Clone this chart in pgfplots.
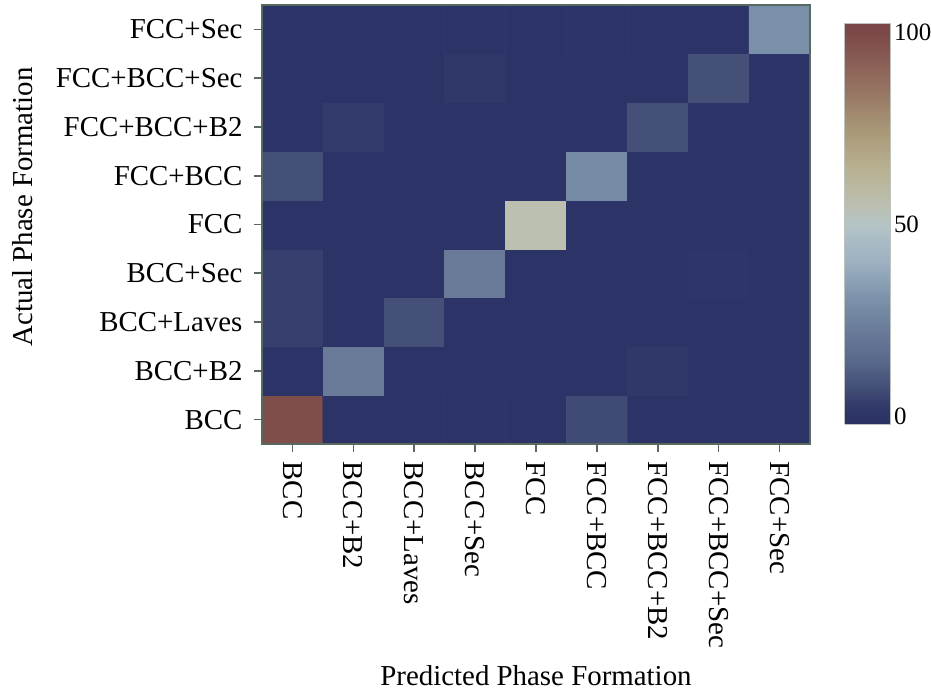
\documentclass[border=0pt]{standalone}
\usepackage{fontspec}
\setmainfont{Liberation Serif}
\usepackage{pgfplots}
\pgfplotsset{compat=1.18}
\definecolor{framec}{RGB}{90,105,95}
\definecolor{cbframe}{RGB}{190,194,190}
\begin{document}
\begin{tikzpicture}[font=\fontsize{29}{34}\selectfont]
\useasboundingbox (-262bp,-252bp) rectangle (669bp,444bp);
\begin{axis}[
  at={(0,0)}, anchor=south west,
  scale only axis, width=548bp, height=439bp,
  xmin=-0.5, xmax=8.5, ymin=-0.5, ymax=8.5,
  xtick={0,...,8}, ytick={0,...,8},
  xticklabels={BCC,BCC+B2,BCC+Laves,BCC+Sec,FCC,FCC+BCC,FCC+BCC+B2,FCC+BCC+Sec,FCC+Sec},
  yticklabels={BCC,BCC+B2,BCC+Laves,BCC+Sec,FCC,FCC+BCC,FCC+BCC+B2,FCC+BCC+Sec,FCC+Sec},
  x tick label style={yshift=-6bp, rotate=-90, anchor=west},
  y tick label style={xshift=-8bp},
  xtick pos=left, ytick pos=left,
  tick align=outside, major tick length=8bp,
  tick style={framec, line width=1.6bp},
  axis line style={framec, line width=2bp},
  axis on top,
  colormap={confmap}{
    rgb255(0)=(44,50,100)
    rgb255(20)=(44,51,102)
    rgb255(40)=(48,56,106)
    rgb255(60)=(54,62,110)
    rgb255(100)=(68,80,120)
    rgb255(170)=(90,106,140)
    rgb255(240)=(104,122,152)
    rgb255(320)=(122,143,168)
    rgb255(420)=(156,176,194)
    rgb255(520)=(180,196,198)
    rgb255(570)=(188,192,176)
    rgb255(670)=(184,176,144)
    rgb255(770)=(168,150,118)
    rgb255(870)=(150,116,98)
    rgb255(1020)=(124,72,72)
    rgb255(1043)=(120,68,70)
  },
  point meta min=-2, point meta max=102.3,
  colorbar sampled,
  colorbar style={
    at={(parent axis.north east)}, anchor=north west,
    xshift=26bp, yshift=-18bp,
    scale only axis, width=46bp, height=401bp,
    samples=160,
    ytick={0,50,100},
    axis line style={cbframe, line width=1bp},
    major tick length=0pt,
    yticklabel style={font=\fontsize{25}{30}\selectfont, /pgf/number format/assume math mode=true},
  },
  xlabel={Predicted Phase Formation},
  ylabel={Actual Phase Formation},
  xlabel style={at={(axis description cs:0.5,0)}, yshift=-232bp, anchor=center},
  ylabel style={at={(axis description cs:-0.436,0.54)}, anchor=center},
]
\addplot[matrix plot*, mesh/cols=9, point meta=explicit] table[meta=c] {
x y c
0 0 98
1 0 0
2 0 0
3 0 0
4 0 0
5 0 7
6 0 0
7 0 0
8 0 0
0 1 0
1 1 22
2 1 0
3 1 0
4 1 0
5 1 0
6 1 2
7 1 0
8 1 0
0 2 4
1 2 0
2 2 8
3 2 0
4 2 0
5 2 0
6 2 0
7 2 0
8 2 0
0 3 4
1 3 0
2 3 0
3 3 22
4 3 0
5 3 0
6 3 0
7 3 1
8 3 0
0 4 0
1 4 0
2 4 0
3 4 0
4 4 55
5 4 0
6 4 0
7 4 0
8 4 0
0 5 8
1 5 0
2 5 0
3 5 0
4 5 0
5 5 28
6 5 0
7 5 0
8 5 0
0 6 0
1 6 3
2 6 0
3 6 0
4 6 0
5 6 0
6 6 8
7 6 0
8 6 0
0 7 0
1 7 0
2 7 0
3 7 2
4 7 0
5 7 0
6 7 0
7 7 8
8 7 0
0 8 0
1 8 0
2 8 0
3 8 0
4 8 0
5 8 0
6 8 0
7 8 0
8 8 30
};
\end{axis}
\end{tikzpicture}
\end{document}
